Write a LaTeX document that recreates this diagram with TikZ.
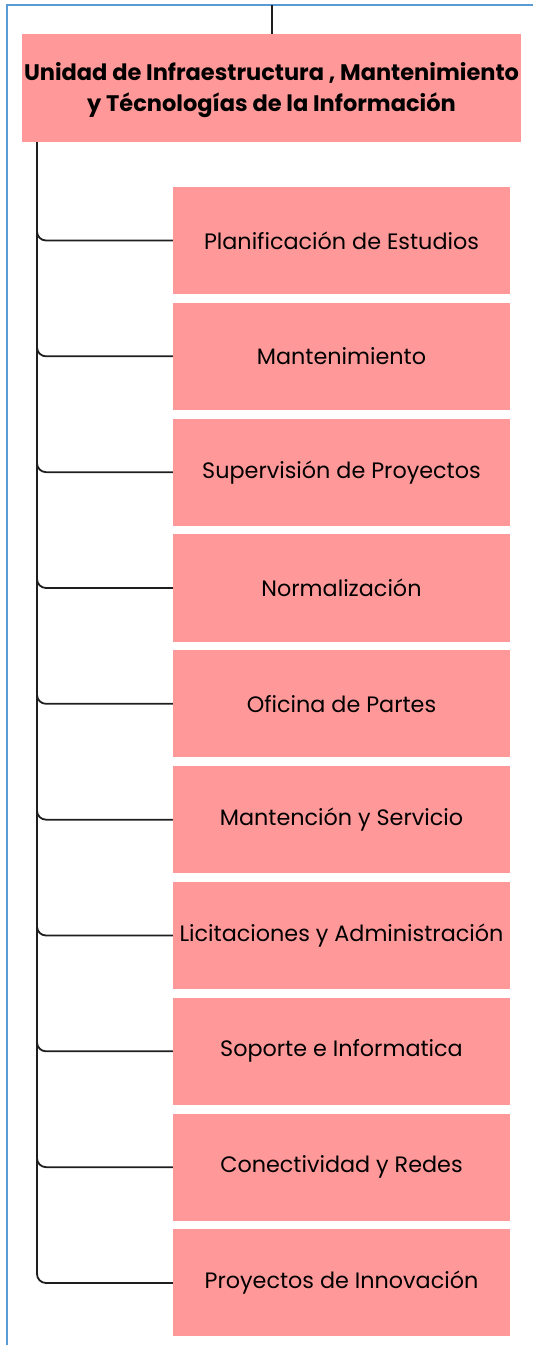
\documentclass[tikz,border=0pt]{standalone}
\usepackage{fontspec}
\setmainfont{Poppins}
\definecolor{boxpink}{HTML}{FF9999}
\definecolor{frameblue}{HTML}{5B9BD5}
\definecolor{linegray}{HTML}{1E1E1E}
\begin{document}
\begin{tikzpicture}[x=1pt,y=-1pt,
  headbox/.style={fill=boxpink,draw=none,minimum width=499pt,minimum height=108pt,inner sep=0pt,align=center,font=\fontsize{22.5}{31}\selectfont\bfseries},
  childbox/.style={fill=boxpink,draw=none,minimum width=337pt,minimum height=107pt,inner sep=0pt,align=center,font=\fontsize{22.3}{26}\selectfont},
  conn/.style={draw=linegray,line width=1.8pt,rounded corners=9pt}]
\useasboundingbox (0,0) rectangle (533,1345);
\draw[frameblue,line width=1.5pt] (7,1345) -- (7,5) -- (533,5);
\node[headbox] (head) at (271.5,88) {};
\node[font=\fontsize{22.5}{31}\selectfont\bfseries,align=center,inner sep=0pt] (headtext) at (271.5,90) {Unidad de Infraestructura , Mantenimiento\\y Técnologías de la Información};
\coordinate (topin) at (272,5);
\draw[conn] (topin) -- (head.north -| topin);
\coordinate (trunk) at (37,142);
\coordinate (trunkend) at (37,1272);
\draw[draw=linegray,line width=2.6pt] (trunk) -- (trunkend);
\foreach \i/\t in {0/Planificación de Estudios,1/Mantenimiento,2/Supervisión de Proyectos,3/Normalización,4/Oficina de Partes,5/Mantención y Servicio,6/Licitaciones y Administración,7/Soporte e Informatica,8/Conectividad y Redes,9/Proyectos de Innovación}{
  \node[childbox] (c\i) at (341.5,240.5+115.83*\i) {\t};
  \draw[conn] (trunk) |- (c\i.west);
}
\end{tikzpicture}
\end{document}
